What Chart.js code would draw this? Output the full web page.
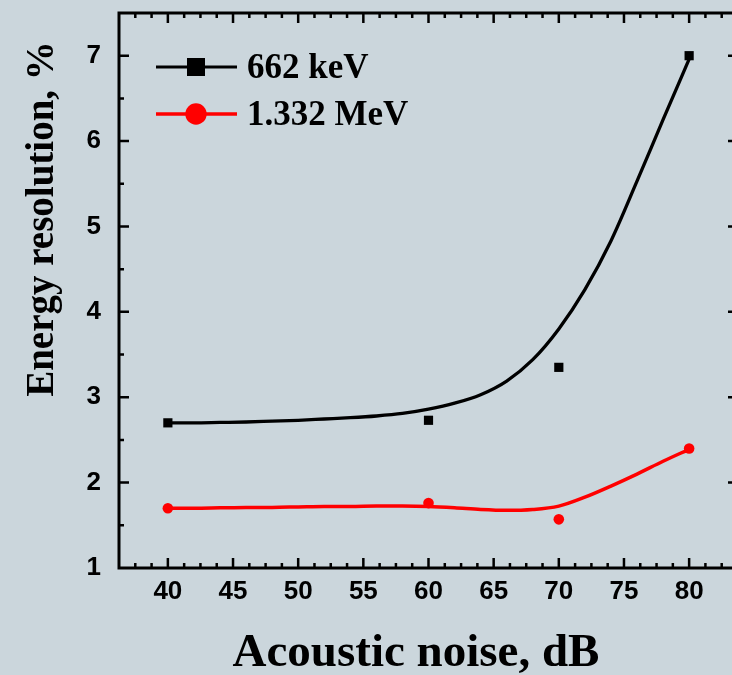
<!DOCTYPE html>
<html>
<head>
<meta charset="utf-8">
<script src="https://cdn.jsdelivr.net/npm/chart.js@4.4.1/dist/chart.umd.min.js"></script>
<style>
  html, body { margin: 0; padding: 0; overflow: hidden; background: #cbd6dc; }
  canvas { display: block; }
</style>
</head>
<body>
<canvas id="chart" width="745" height="675"></canvas>
<script>
// Measured points
const noise = [40, 60, 70, 80];
const res662 = [2.70, 2.73, 3.35, 7.00];
const res1332 = [1.70, 1.76, 1.57, 2.40];

// Fitted curves
const fitNoise = [40, 42, 44, 46, 48, 50, 52, 54, 56, 58, 60, 62, 64, 66, 68, 70, 72, 74, 76, 78, 80];
const fit662 = [2.70, 2.70, 2.705, 2.71, 2.72, 2.73, 2.745, 2.76, 2.78, 2.81, 2.86, 2.93, 3.03, 3.19, 3.44, 3.80, 4.26, 4.83, 5.53, 6.25, 6.96];
const fit1332 = [1.70, 1.70, 1.705, 1.71, 1.71, 1.715, 1.72, 1.72, 1.725, 1.725, 1.72, 1.705, 1.685, 1.675, 1.685, 1.725, 1.83, 1.96, 2.10, 2.25, 2.39];

const seriesLabels = ['662 keV', '1.332 MeV'];
const seriesColors = ['#000000', '#ff0000'];
const xTitle = 'Acoustic noise, dB';
const yTitle = 'Energy resolution, %';

const toPoints = (xs, ys) => xs.map((x, i) => ({ x: x, y: ys[i] }));

// Frame with inward ticks on all four sides, plus titles and legend
const framePlugin = {
    id: 'frame',
    afterDatasetsDraw(chart) {
        const ctx = chart.ctx;
        const a = chart.chartArea;
        const xs = chart.scales.x, ys = chart.scales.y;
        ctx.save();
        ctx.strokeStyle = '#000';
        ctx.lineWidth = 3;
        ctx.strokeRect(a.left, a.top, a.right - a.left, a.bottom - a.top);

        ctx.lineWidth = 2.5;
        ctx.beginPath();
        for (let v = 37.5; v <= 83.75; v += 1.25) {
            const px = xs.getPixelForValue(v);
            const len = (v % 5 === 0) ? 10 : 5;
            ctx.moveTo(px, a.bottom); ctx.lineTo(px, a.bottom - len);
            ctx.moveTo(px, a.top); ctx.lineTo(px, a.top + len);
        }
        for (let v = 1.5; v < 7.5; v += 0.5) {
            const py = ys.getPixelForValue(v);
            const len = (v % 1 === 0) ? 10 : 5;
            ctx.moveTo(a.left, py); ctx.lineTo(a.left + len, py);
            ctx.moveTo(a.right, py); ctx.lineTo(a.right - len, py);
        }
        ctx.stroke();
        ctx.restore();
    },
    afterDraw(chart) {
        const ctx = chart.ctx;
        ctx.save();
        ctx.fillStyle = '#000';

        // axis titles
        ctx.font = 'bold 47px "Liberation Serif"';
        ctx.textAlign = 'center';
        ctx.textBaseline = 'alphabetic';
        ctx.fillText(xTitle, 416, 666);

        ctx.save();
        ctx.translate(53, 219);
        ctx.rotate(-Math.PI / 2);
        ctx.font = 'bold 39px "Liberation Serif"';
        ctx.fillText(yTitle, 0, 0);
        ctx.restore();

        // legend
        const rows = [67, 114];
        ctx.textAlign = 'left';
        ctx.font = 'bold 35px "Liberation Serif"';
        rows.forEach((y, i) => {
            ctx.strokeStyle = seriesColors[i];
            ctx.fillStyle = seriesColors[i];
            ctx.lineWidth = i === 0 ? 3 : 3.5;
            ctx.beginPath();
            ctx.moveTo(156, y); ctx.lineTo(237, y);
            ctx.stroke();
            if (i === 0) {
                ctx.fillRect(187, y - 9, 18, 18);
            } else {
                ctx.beginPath();
                ctx.arc(196, y, 10.7, 0, Math.PI * 2);
                ctx.fill();
            }
            ctx.fillStyle = '#000';
            ctx.fillText(seriesLabels[i], 247, y + 11);
        });
        ctx.restore();
    }
};

const tickFont = { family: '"Liberation Sans", Arial, sans-serif', weight: 'bold', size: 26 };

new Chart(document.getElementById('chart').getContext('2d'), {
    type: 'scatter',
    data: {
        datasets: [
            {
                label: seriesLabels[0],
                data: toPoints(noise, res662),
                pointStyle: 'rect',
                pointRadius: 6.5,
                backgroundColor: seriesColors[0],
                borderWidth: 0,
                showLine: false
            },
            {
                label: seriesLabels[0] + ' fit',
                data: toPoints(fitNoise, fit662),
                showLine: true,
                pointRadius: 0,
                borderColor: seriesColors[0],
                borderWidth: 3.3,
                cubicInterpolationMode: 'monotone'
            },
            {
                label: seriesLabels[1],
                data: toPoints(noise, res1332),
                pointStyle: 'circle',
                pointRadius: 5.3,
                backgroundColor: seriesColors[1],
                borderWidth: 0,
                showLine: false
            },
            {
                label: seriesLabels[1] + ' fit',
                data: toPoints(fitNoise, fit1332),
                showLine: true,
                pointRadius: 0,
                borderColor: seriesColors[1],
                borderWidth: 3.5,
                cubicInterpolationMode: 'monotone'
            }
        ]
    },
    options: {
        responsive: false,
        animation: false,
        layout: { padding: { top: 13, right: 7, left: 0, bottom: 0 } },
        plugins: {
            legend: { display: false },
            tooltip: { enabled: false }
        },
        scales: {
            x: {
                type: 'linear',
                min: 36.25,
                max: 83.75,
                grid: { display: false },
                border: { display: false },
                ticks: { stepSize: 5, includeBounds: false, font: tickFont, color: '#000', padding: 0, maxRotation: 0 },
                afterFit: s => { s.height = 107; s.paddingLeft = 0; s.paddingRight = 0; }
            },
            y: {
                min: 1,
                max: 7.5,
                grid: { display: false },
                border: { display: false },
                ticks: { stepSize: 1, includeBounds: false, font: tickFont, color: '#000', padding: 10 },
                afterFit: s => { s.width = 119; s.paddingTop = 0; s.paddingBottom = 0; }
            }
        }
    },
    plugins: [framePlugin]
});
</script>
</body>
</html>
